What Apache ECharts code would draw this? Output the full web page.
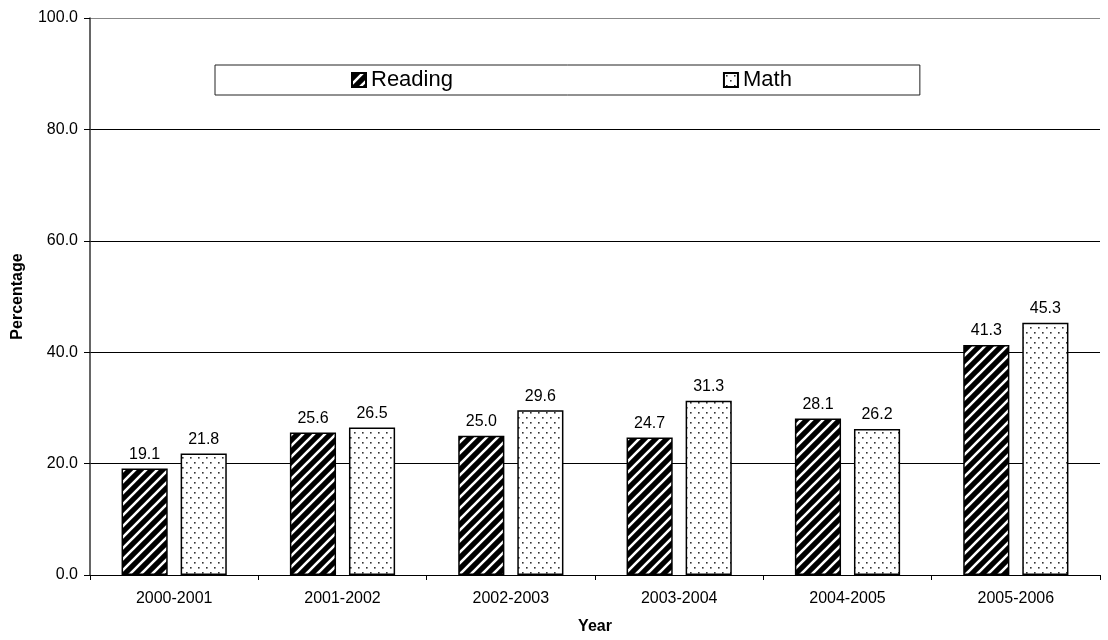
<!DOCTYPE html>
<html>
<head>
<meta charset="utf-8">
<script src="https://cdn.jsdelivr.net/npm/echarts@6/dist/echarts.min.js"></script>
<style>
  html, body { margin: 0; padding: 0; background: #fff; }
  #chart { width: 1108px; height: 640px; }
</style>
</head>
<body>
<div id="chart"></div>
<script>
// School years shown on the category axis
const years = ['2000-2001', '2001-2002', '2002-2003', '2003-2004', '2004-2005', '2005-2006'];
// Percentages per subject
const reading = [19.1, 25.6, 25.0, 24.7, 28.1, 41.3];
const math = [21.8, 26.5, 29.6, 31.3, 26.2, 45.3];

// Black fill with white diagonal stripes
function stripeTile() {
  const s = 11;
  const c = document.createElement('canvas');
  c.width = s; c.height = s;
  const g = c.getContext('2d');
  g.fillStyle = '#000';
  g.fillRect(0, 0, s, s);
  g.strokeStyle = '#fff';
  g.lineWidth = 2.6;
  g.beginPath();
  g.moveTo(-3, 3); g.lineTo(3, -3);
  g.moveTo(-1, s + 1); g.lineTo(s + 1, -1);
  g.moveTo(s - 3, s + 3); g.lineTo(s + 3, s - 3);
  g.stroke();
  return c;
}

// White fill with a staggered grid of small dots
function dotTile() {
  const w = 8, h = 10;
  const c = document.createElement('canvas');
  c.width = w; c.height = h;
  const g = c.getContext('2d');
  g.fillStyle = '#fff';
  g.fillRect(0, 0, w, h);
  g.fillStyle = '#333';
  g.fillRect(2, 2, 1.6, 1.6);
  g.fillRect(6, 7, 1.6, 1.6);
  return c;
}

const font = "'Liberation Sans', Arial, sans-serif";
const chart = echarts.init(document.getElementById('chart'), null, { renderer: 'canvas' });

const labelStyle = {
  show: true,
  position: 'top',
  distance: 6,
  color: '#000',
  fontFamily: font,
  fontSize: 16,
  formatter: p => p.value.toFixed(1)
};

chart.setOption({
  animation: false,
  backgroundColor: '#fff',
  textStyle: { fontFamily: font },
  grid: { left: 90, right: 8, top: 18, bottom: 61 },
  legend: {
    left: 215,
    top: 65,
    orient: 'horizontal',
    padding: [4, 128, 4, 136],
    itemGap: 270,
    itemWidth: 14,
    itemHeight: 14,
    itemTextGap: 5,
    borderColor: '#222',
    borderWidth: 1,
    borderRadius: 0,
    textStyle: { color: '#000', fontSize: 22, fontFamily: font },
    data: [
      { name: 'Reading', icon: 'rect' },
      { name: 'Math', icon: 'rect' }
    ]
  },
  xAxis: {
    type: 'category',
    data: years,
    name: 'Year',
    nameLocation: 'middle',
    nameGap: 44,
    nameTextStyle: { fontWeight: 'bold', fontSize: 16, color: '#000', fontFamily: font },
    axisLine: { lineStyle: { color: '#000', width: 1 } },
    axisTick: { show: true, length: 5, lineStyle: { color: '#000' } },
    axisLabel: { color: '#000', fontSize: 16, margin: 16, fontFamily: font }
  },
  yAxis: {
    type: 'value',
    min: 0,
    max: 100,
    interval: 20,
    name: 'Percentage',
    nameLocation: 'middle',
    nameGap: 64,
    nameTextStyle: { fontWeight: 'bold', fontSize: 16, color: '#000', fontFamily: font },
    axisLine: { show: true, lineStyle: { color: '#333', width: 1.5 } },
    axisTick: { show: true, length: 6, lineStyle: { color: '#000' } },
    axisLabel: { color: '#000', fontSize: 16, margin: 12, fontFamily: font, formatter: v => v.toFixed(1) },
    splitLine: {
      show: true,
      lineStyle: { color: ['#000', '#000', '#000', '#000', '#000', '#888'], width: 1 }
    }
  },
  series: [
    {
      name: 'Reading',
      type: 'bar',
      data: reading,
      barGap: '28%',
      barCategoryGap: '37.5%',
      itemStyle: {
        color: { image: stripeTile(), repeat: 'repeat' },
        borderColor: '#000',
        borderWidth: 1.5
      },
      label: labelStyle
    },
    {
      name: 'Math',
      type: 'bar',
      data: math,
      itemStyle: {
        color: { image: dotTile(), repeat: 'repeat' },
        borderColor: '#000',
        borderWidth: 1.5
      },
      label: labelStyle
    }
  ]
});
</script>
</body>
</html>
